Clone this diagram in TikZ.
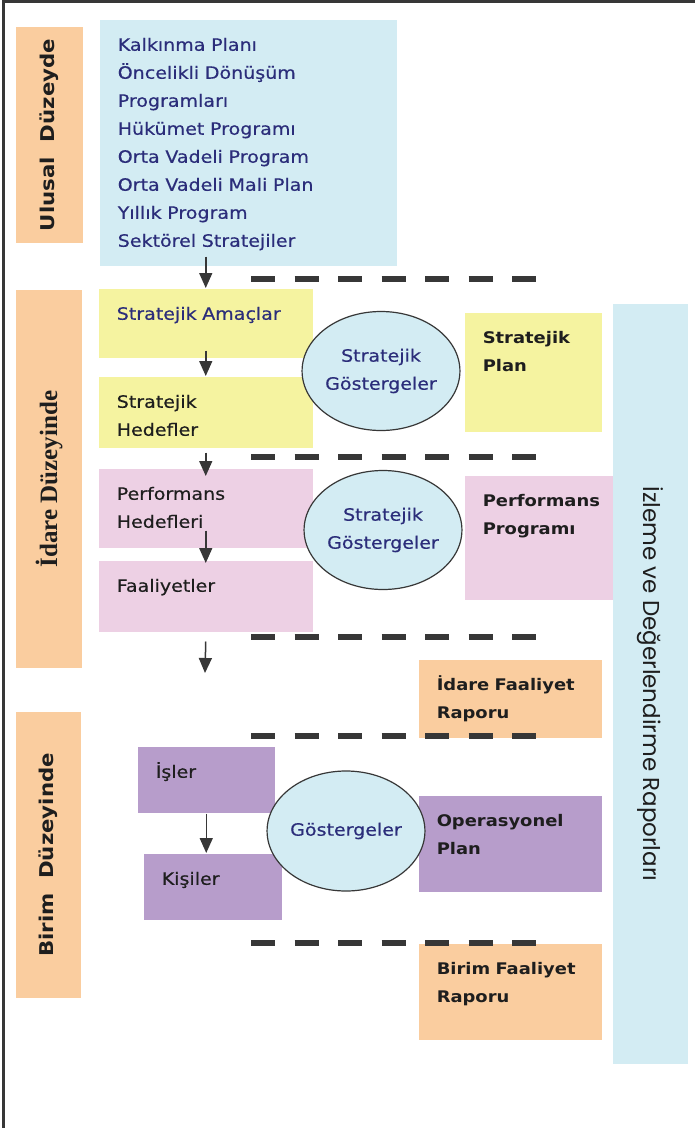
\documentclass[tikz,border=0pt]{standalone}
\usepackage{fontspec}
\setmainfont{DejaVu Sans}[FakeStretch=1.12, UprightFeatures={FakeBold=0.5}]
\newfontfamily\timesfont{Liberation Serif}
\newfontfamily\gothicfont{Poppins}
\usepackage{tikz}
\usetikzlibrary{shapes,arrows}
\usetikzlibrary{arrows.meta}
\definecolor{peach}{RGB}{250,205,159}
\definecolor{skyblue}{RGB}{211,236,243}
\definecolor{lemon}{RGB}{245,243,160}
\definecolor{rose}{RGB}{237,208,228}
\definecolor{lilac}{RGB}{183,157,203}
\definecolor{navy}{RGB}{43,45,122}
\definecolor{ink}{RGB}{30,30,30}
\definecolor{darkline}{RGB}{55,55,55}
\tikzset{
	block/.style    = {rectangle, anchor=north west, inner xsep=18pt, inner ysep=0pt,
		align=left, text height=31pt, text=ink,
		font=\fontsize{17}{28}\selectfont},
	boxdim/.style 2 args = {text width=#1, text depth=#2},
	plan/.style     = {block, font=\bfseries\fontsize{16}{28}\selectfont},
	level/.style    = {rectangle, fill=peach, rotate=90, inner sep=0pt, text=ink,
		font=\bfseries\fontsize{19}{24}\selectfont},
	gauge/.style    = {draw=darkline, line width=1.2pt, ellipse, fill=skyblue, inner sep=0pt,
		minimum width=152pt, minimum height=119pt, text=navy, align=center,
		font=\fontsize{17}{28}\selectfont},
	sep/.style      = {draw=darkline, line width=5.5pt, dash pattern=on 24pt off 19.5pt},
}

\begin{document}
\begin{tikzpicture}[ x=1pt,                          %<--one unit is one pixel
					y=-1pt,                          %<--y runs downwards
					line width=1.5pt,                %<--setting line style
					>={Triangle[length=15pt,width=13pt]} ] %<--sets the arrowtype

	\useasboundingbox[fill=white] (0,0) rectangle (695,1128);
	\draw[darkline, line width=3pt] (3.5,1128) -- (3.5,1.5) -- (695,1.5);

	\draw%-----------------------------------------------------------------------------------------
	%Drawing the Level Labels:
	node(ulusalLabel) at (49.5,135) [level, minimum width=216pt, minimum height=67pt] {Ulusal\ \ Düzeyde}
	node(idareLabel) at (49,479) [level, minimum width=378pt, minimum height=66pt,
		font=\timesfont\bfseries\fontsize{25}{28}\selectfont] {İdare Düzeyinde}
	node(birimLabel) at (48.5,855) [level, minimum width=286pt, minimum height=65pt] {Birim\ \ Düzeyinde}
	%Drawing the Plan Blocks:
	node(national) at (99,19) [block, boxdim={261pt}{215pt}, fill=skyblue, text=navy]
		{Kalkınma Planı\\Öncelikli Dönüşüm\\Programları\\Hükümet Programı\\Orta Vadeli Program\\Orta Vadeli Mali Plan\\Yıllık Program\\Sektörel Stratejiler}
	node(amac) at (98,288) [block, boxdim={178pt}{38pt}, fill=lemon, text=navy] {Stratejik Amaçlar}
	node(hedef) at (98,376) [block, boxdim={178pt}{40pt}, fill=lemon] {Stratejik\\Hedefler}
	node(perfHedef) at (98,468) [block, boxdim={178pt}{48pt}, fill=rose] {Performans\\Hedefleri}
	node(faaliyet) at (98,560) [block, boxdim={178pt}{40pt}, fill=rose] {Faaliyetler}
	node(isler) at (137,746) [block, boxdim={101pt}{35pt}, fill=lilac] {İşler}
	node(kisiler) at (143,853) [block, boxdim={102pt}{35pt}, fill=lilac] {Kişiler}
	%Drawing the Document Blocks:
	node(stratPlan) at (464,312) [plan, boxdim={101pt}{88pt}, fill=lemon] {Stratejik\\Plan}
	node(perfProg) at (464,475) [plan, boxdim={113pt}{93pt}, fill=rose] {Performans\\Programı}
	node(idareRapor) at (418,659) [plan, boxdim={147pt}{47pt}, fill=peach] {İdare Faaliyet\\Raporu}
	node(opPlan) at (418,795) [plan, boxdim={147pt}{65pt}, fill=lilac] {Operasyonel\\Plan}
	node(birimRapor) at (418,943) [plan, boxdim={147pt}{65pt}, fill=peach] {Birim Faaliyet\\Raporu}
	node(izleme) at (650.5,684) [rectangle, fill=skyblue, rotate=-90, inner sep=0pt, text=ink,
		minimum width=760pt, minimum height=75pt, font=\gothicfont\fontsize{23}{26}\selectfont]
		{İzleme ve Değerlendirme Raporları}
	%Drawing the Indicator Ellipses:
	node(gosterge1) at (381,371) [gauge] {Stratejik\\Göstergeler}
	node(gosterge2) at (383,530) [gauge] {Stratejik\\Göstergeler}
	node(gosterge3) at (346,831) [gauge, minimum width=143pt, minimum height=120pt] {Göstergeler}
	%Drawing the free arrow end:
	node[shape=coordinate][](lowEnd) at (205,673){}
	;%---------------------------------------------------------------------------------------------

	%Drawing the Separators
	\foreach \y in {279,457,637,736,943}
		\draw[sep] (251,\y) -- (536,\y);

	%Joining the Blocks
	\draw[->,darkline] ([yshift=10pt]national.south -| amac.north) -- (amac.north);
	\draw[->,darkline] ([yshift=8pt]amac.south) -- (hedef.north);
	\draw[->,darkline] ([yshift=-4pt]hedef.south) -- ([yshift=-8pt]perfHedef.north);
	\draw[->,darkline] ([yshift=18pt]perfHedef.south) -- ([yshift=-3pt]faaliyet.north);
	\draw[->,darkline] ([yshift=-9pt]faaliyet.south) -- (lowEnd);
	\draw[->,darkline] (isler.south) -- (isler.south |- kisiler.north);

\end{tikzpicture}
\end{document}
